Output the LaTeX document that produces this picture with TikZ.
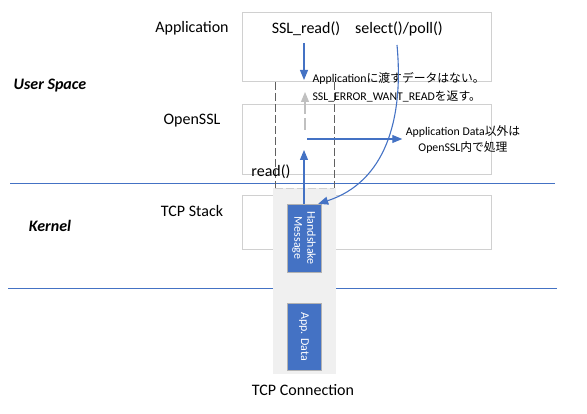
\documentclass[tikz,border=0pt]{standalone}
\usepackage{fontspec}
\setmainfont{Carlito}
\newfontfamily\jpfont{Noto Sans CJK JP}
\usetikzlibrary{arrows.meta}
\definecolor{msblue}{HTML}{4472C4}
\definecolor{boxgray}{HTML}{D0D0D0}
\definecolor{colgray}{HTML}{F0F0F0}
\definecolor{dashgray}{HTML}{606060}
\definecolor{tipgray}{HTML}{C0C0C0}
\tikzset{
  layerbox/.style={draw=boxgray, line width=0.8pt, minimum width=249pt, inner sep=0pt},
  pktbox/.style={draw=gray!60, fill=msblue, text=white, minimum height=34pt,
    inner sep=0pt, rotate=-90, align=center, font=\fontsize{12}{13}\selectfont},
  flow/.style={draw=msblue, line width=1.1pt, -{Triangle[length=10pt,width=8pt]}},
  guide/.style={dash pattern=on 8pt off 3pt, line width=0.8pt},
  note/.style={font=\fontsize{11.8}{16}\selectfont},
  tag/.style={font=\fontsize{16}{18}\selectfont}
}
\begin{document}
\begin{tikzpicture}[x=1pt, y=-1pt]
  \useasboundingbox (0,0) rectangle (587,414);
  % space boundaries
  \draw[msblue, line width=0.9pt] (10,183) -- (555,183);
  \draw[msblue, line width=0.9pt] (8,288) -- (557,288);
  \node[font=\fontsize{16}{18}\selectfont\bfseries\itshape] (user) at (50,86) {User Space};
  \node[font=\fontsize{16}{18}\selectfont\bfseries\itshape] (kern) at (50,226) {Kernel};
  % layers
  \node[layerbox, minimum height=69pt] (appbox) at (366.5,46.5) {};
  \node[layerbox, minimum height=70pt] (sslbox) at (366.5,139) {};
  \node[layerbox, minimum height=54pt] (tcpbox) at (366.5,222) {};
  \node[tag] (applbl) at (192,28) {Application};
  \node[tag] (ssllbl) at (192,121) {OpenSSL};
  \node[tag] (tcplbl) at (192,211) {TCP Stack};
  % tcp connection column
  \fill[colgray] (273,188) rectangle (336,374);
  \draw[dashgray, guide] (275,82) -- (275,188);
  \draw[dashgray, guide] (334,82) -- (334,188);
  \draw[boxgray, guide] (275,188) -- (334,188);
  \node[pktbox, minimum width=68pt] (hs) at (304,238) {Handshake\\Message};
  \node[pktbox, minimum width=67pt] (appdata) at (304,336.5) {App. Data};
  \node[tag] (conn) at (303,390) {TCP Connection};
  % calls
  \node[tag] (sslread) at (306,29) {SSL\_read()};
  \node[tag] (select) at (399,29) {select()/poll()};
  \node[tag] (read) at (271,172) {read()};
  % notes
  \node[note, anchor=west] (nodata1) at (309,78) {Application{\jpfont に渡すデータはない。}};
  \node[note, anchor=west] (nodata2) at (309,96) {SSL\_ERROR\_WANT\_READ{\jpfont を返す。}};
  \node[note, align=center] (other) at (463,139) {Application Data{\jpfont 以外は}\\OpenSSL{\jpfont 内で処理}};
  \coordinate (callend) at (304,80);
  \coordinate (upstart) at (305,130);
  \coordinate (upend) at (305,92);
  \coordinate (hsend) at (304,150);
  \coordinate (splitpt) at (307,139);
  \coordinate (selstart) at (397,45);
  % arrows
  \draw[flow] (304,43) -- (callend);
  \draw[tipgray, line width=1.1pt, dash pattern=on 12pt off 4pt, -{Triangle[length=10pt,width=8pt]}] (upstart) -- (upend);
  \draw[flow] (hs.west) -- (hsend);
  \draw[flow] (splitpt) -- (other.west);
  \draw[flow] (selstart) .. controls (404,120) and (385,182) .. ([xshift=-3pt]hs.north west);
\end{tikzpicture}
\end{document}
